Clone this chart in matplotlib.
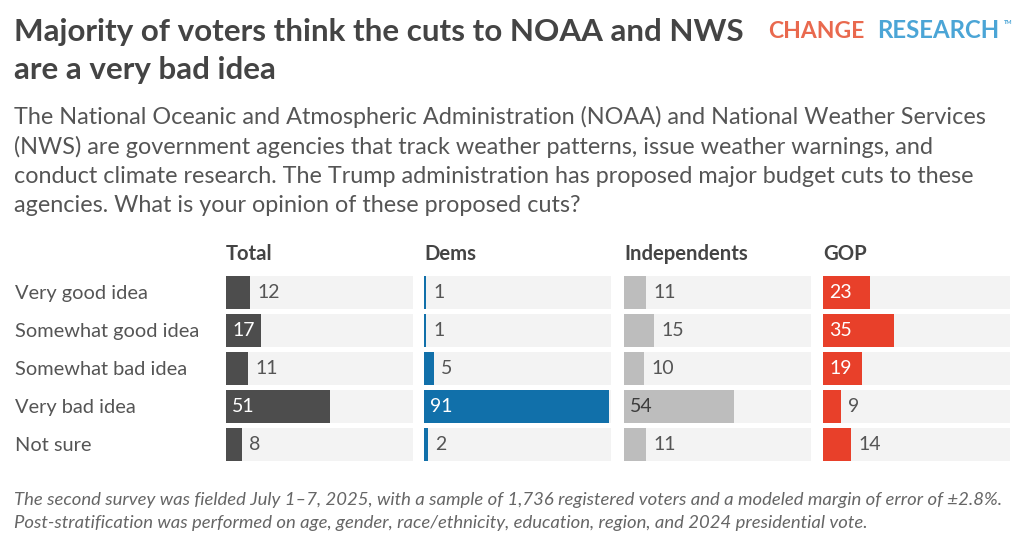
import matplotlib
matplotlib.use("Agg")
import matplotlib.pyplot as plt

W, H = 1024, 556
plt.rcParams["font.family"] = ["Lato", "DejaVu Sans"]

responses = ["Very good idea", "Somewhat good idea", "Somewhat bad idea", "Very bad idea", "Not sure"]
groups = ["Total", "Dems", "Independents", "GOP"]
total = [12, 17, 11, 51, 8]
dems = [1, 1, 5, 91, 2]
independents = [11, 15, 10, 54, 11]
gop = [23, 35, 19, 9, 14]
series = [total, dems, independents, gop]

bar_colors = ["#4d4d4d", "#1170aa", "#bdbdbd", "#e8402a"]
inside_text = ["white", "white", "#3d3d3d", "white"]
TEXT = "#555555"
TRACK = "#f3f3f3"
XMAX = 92.0


def fx(px):
    return px / W


def fy(py):
    return 1 - py / H


fig = plt.figure(figsize=(W / 100, H / 100), dpi=100)
fig.patch.set_facecolor("white")

# title + logo
fig.text(fx(14), fy(40.5), "Majority of voters think the cuts to NOAA and NWS",
         fontsize=22.6, fontweight="bold", color="#444444", va="baseline")
fig.text(fx(14), fy(79.5), "are a very bad idea",
         fontsize=22.6, fontweight="bold", color="#444444", va="baseline")
fig.text(fx(768), fy(38), "CHANGE", fontsize=16.5, fontweight="bold", color="#e9694e", va="baseline")
fig.text(fx(877), fy(38), "RESEARCH", fontsize=17.3, fontweight="bold", color="#4ba5d6",
         va="baseline")
fig.text(fx(1004), fy(24.5), "TM", fontsize=4, fontweight="bold", color="#4ba5d6", va="baseline")

subtitle = [
    "The National Oceanic and Atmospheric Administration (NOAA) and National Weather Services",
    "(NWS) are government agencies that track weather patterns, issue weather warnings, and",
    "conduct climate research. The Trump administration has proposed major budget cuts to these",
    "agencies. What is your opinion of these proposed cuts?",
]
for k, line in enumerate(subtitle):
    fig.text(fx(14), fy(124.5 + 29 * k), line, fontsize=16.8, color=TEXT, va="baseline")

# panels
lefts = [226, 424, 624, 823]
pw = 187
top, bottom = 273, 464
pitch = (bottom - top) / 5
for g, (name, vals) in enumerate(zip(groups, series)):
    ax = fig.add_axes([fx(lefts[g]), fy(bottom), fx(pw), (bottom - top) / H])
    ys = range(len(responses))
    ax.barh(ys, [XMAX] * len(vals), height=0.86, color=TRACK)
    ax.barh(ys, vals, height=0.86, color=bar_colors[g])
    ax.set_xlim(0, XMAX)
    ax.set_ylim(len(responses) - 0.5, -0.5)
    ax.axis("off")
    for i, v in enumerate(vals):
        if v >= 16:
            ax.annotate(str(v), (0, i), xytext=(6, 0), textcoords="offset pixels",
                        fontsize=14, color=inside_text[g], va="center", ha="left")
        else:
            ax.annotate(str(v), (v, i), xytext=(7, 0), textcoords="offset pixels",
                        fontsize=14, color=TEXT, va="center", ha="left")
    fig.text(fx(lefts[g]), fy(260), name, fontsize=14.6, fontweight="bold", color="#444444",
             va="baseline")

for i, r in enumerate(responses):
    fig.text(fx(15), fy(top + pitch * (i + 0.5) + 6.5), r, fontsize=14.4, color=TEXT, va="baseline")

notes = [
    "The second survey was fielded July 1\u20137, 2025, with a sample of 1,736 registered voters and a modeled margin of error of \u00b12.8%.",
    "Post-stratification was performed on age, gender, race/ethnicity, education, region, and 2024 presidential vote.",
]
for k, line in enumerate(notes):
    fig.text(fx(14), fy(505 + 23 * k), line, fontsize=13.3, style="italic", color="#666666",
             va="baseline")

fig.savefig("out.png", dpi=100, facecolor="white")
